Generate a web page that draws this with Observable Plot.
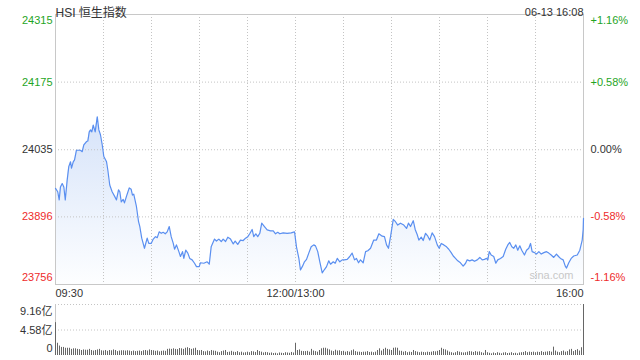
<!DOCTYPE html>
<html><head><meta charset="utf-8">
<script src="https://cdn.jsdelivr.net/npm/d3@7"></script>
<script src="https://cdn.jsdelivr.net/npm/@observablehq/plot@0.6"></script>
<style>
body{margin:0;background:#fff;}
#wrap{position:relative;width:640px;height:360px;overflow:hidden;}
#wrap svg{position:absolute;left:0;display:block;}
</style></head><body><div id="wrap"></div>
<script>
// ---------- data ----------
const titleText = "HSI 恒生指数";
const dateText = "06-13 16:08";
const prevClose = 24035;
const yTicks = [24315, 24175, 24035, 23896, 23756];
const pctLabels = ["+1.16%", "+0.58%", "0.00%", "-0.58%", "-1.16%"];
const gridMinutes = [30, 60, 90, 120, 150, 180, 210, 240, 270, 300];
const xLabelMinutes = [0, 150, 330];
const xLabelTexts = ["09:30", "12:00/13:00", "16:00"];
const volTicks = [9.16, 4.58, 0];
const volTickLabels = ["9.16亿", "4.58亿", "0"];

// minutes since 09:30 (lunch removed) and index level
const times = [0,1.4,2.3,3.1,4.2,5.2,6.1,7.3,8.3,9.4,10,11.1,11.9,13.1,15.6,16.7,17.7,19.4,20.2,21.1,21.9,22.7,23.6,24.8,26.1,27.1,28.1,29.2,30.2,31.9,32.7,33.9,35.4,36.9,38.1,39.4,40.2,41.1,42.3,43.1,44.4,46.1,47.3,48.1,48.9,50.6,51.9,52.7,53.9,55.6,57.3,58.3,59.8,61.1,62.5,63.6,64.8,66.1,67.3,68.6,69.8,71.1,72.3,73.6,74.4,75.6,77.1,78.1,79.4,80.2,81.4,82.7,83.9,85.4,86.9,88.1,89.8,90.6,
92.7,94.8,96.1,97.3,99.4,100.6,102.1,103.6,104.8,106.3,107.7,109.4,111.1,112.3,113.9,115.6,117.3,118.8,120.2,121.4,122.9,123.9,125.2,126.4,127.7,128.9,130.6,132.3,134.4,136.1,137.5,138.9,140.2,142.3,144.8,147.3,149.4,
150.6,152.1,153.1,154.4,155.6,156.9,158.3,159.8,161.4,162.5,163.9,165.2,166.7,168.1,169.4,170.8,171.9,173.6,174.8,176.1,177.7,179.2,180.6,182.3,183.9,185.4,186.9,188.1,189.4,190.6,192.3,193.8,195.2,196.9,198.9,200.6,202.1,204.2,205.6,206.9,208.1,209.4,211.1,212.5,213.9,
215.6,217.7,219.4,220.6,221.9,223.6,224.8,226.1,227.1,228.6,229.8,231.3,232.7,233.9,235.4,236.9,238.6,239.8,241.1,242.7,244.4,245.8,247.3,248.6,250,251.4,253.1,254.8,256.3,257.3,258.9,260.4,261.9,263.6,265.2,266.7,268.1,269.4,270.2,271.1,272.3,273.9,275.2,276.4,278.1,279.8,281.4,282.7,283.9,285.2,286.4,287.7,288.9,290.2,291.4,293.1,294.4,295.8,296.9,297.9,299.4,300.6,302.1,303.6,305.2,306.9,308.3,309.8,311.4,313.1,314.4,315.6,317.3,318.6,319.4,320.8,322.3,323.9,326.1,327.7,329.2,329.8,330];
const prices = [23955,23948,23931,23958,23965,23958,23931,23972,24000,24010,23997,24010,24014,24034,24034,24031,24045,24052,24053,24072,24076,24072,24086,24072,24103,24076,24066,24045,24021,24010,23993,23962,23948,23939,23931,23952,23948,23927,23932,23925,23939,23956,23953,23941,23943,23917,23886,23876,23852,23831,23852,23841,23841,23850,23855,23853,23865,23862,23864,23861,23865,23876,23855,23841,23829,23838,23824,23814,23824,23810,23827,23821,23810,23807,23800,23793,23793,23801,
23800,23803,23798,23834,23850,23846,23850,23845,23850,23845,23854,23850,23840,23846,23839,23848,23847,23852,23855,23861,23870,23855,23861,23855,23862,23883,23876,23869,23867,23867,23861,23864,23861,23863,23862,23863,23865,
23834,23810,23786,23794,23803,23808,23821,23834,23838,23836,23824,23803,23780,23787,23793,23805,23798,23803,23800,23810,23803,23807,23807,23808,23814,23821,23807,23810,23801,23807,23801,23824,23826,23831,23848,23848,23861,23856,23855,23838,23831,23855,23891,23886,23879,
23883,23879,23872,23883,23876,23888,23870,23859,23848,23854,23847,23862,23856,23848,23863,23855,23838,23831,23841,23838,23834,23829,23822,23815,23810,23805,23801,23794,23800,23807,23805,23807,23804,23807,23812,23807,23808,23810,23807,23824,23817,23814,23800,23807,23810,23814,23829,23838,23843,23834,23831,23838,23827,23836,23827,23817,23827,23831,23841,23824,23822,23819,23824,23819,23822,23824,23821,23817,23812,23819,23814,23810,23807,23794,23790,23801,23810,23815,23817,23827,23848,23870,23893];

// turnover (亿), one bar per 1.25 minutes
const volumes = [5.9,2.2,1.7,1.45,1.45,1.3,1.3,1.3,1.1,1.2,1.2,1.1,1.05,0.9,1.0,0.95,0.95,1.1,0.9,0.8,0.9,1.0,1.1,0.85,0.8,0.9,0.75,0.9,0.85,1.0,0.9,0.7,0.8,0.85,0.85,0.8,0.85,0.8,0.7,0.8,0.7,0.75,0.8,0.7,0.85,0.9,0.8,1.0,0.9,0.85,0.75,0.8,0.65,0.75,
0.8,0.75,1.1,1.15,1.1,1.2,1.1,1.05,1.25,1.2,1.1,1.3,1.4,1.25,1.1,1.2,1.3,0.9,0.85,0.9,0.7,0.65,0.8,0.7,0.9,0.8,0.75,0.6,0.5,0.7,0.8,0.9,0.55,0.6,0.75,0.6,0.55,0.7,0.5,0.6,0.45,0.5,0.6,0.5,0.7,0.65,0.55,0.9,0.7,0.6,0.45,0.55,0.5,
0.4,0.45,0.35,0.4,0.3,0.45,0.4,0.35,0.5,0.45,0.4,0.55,0.45,2.2,0.9,1.0,0.75,0.7,0.7,0.75,0.6,1.1,0.8,0.7,0.6,0.9,1.2,1.3,1.3,1.15,1.0,0.8,0.7,0.95,0.8,0.85,0.7,0.75,0.6,0.7,0.6,0.85,1.0,0.7,0.6,0.6,0.55,0.6,0.6,0.7,0.55,0.6,0.5,
0.6,0.9,1.2,0.8,1.1,1.3,1.1,1.0,0.9,1.3,1.35,1.3,0.8,0.75,0.6,0.7,0.5,0.6,0.55,0.9,0.7,0.6,0.5,0.6,0.55,0.5,0.6,0.55,0.6,0.7,0.65,0.75,0.9,1.3,1.1,1.0,0.8,0.6,0.5,0.4,0.5,0.7,0.6,0.5,0.45,0.5,0.6,0.7,0.65,0.55,0.7,0.6,0.65,0.5,
0.4,0.9,0.5,0.4,0.3,0.45,0.35,0.5,0.4,0.3,0.45,0.5,0.35,0.4,0.5,0.35,0.4,0.3,0.45,0.5,0.55,0.7,0.5,0.6,0.55,0.6,0.5,0.6,0.55,0.7,0.55,0.6,0.65,0.7,0.6,1.5,0.8,0.6,0.5,0.7,0.8,0.6,0.7,1.0,1.1,0.7,0.9,1.05,0.8,1.4,9.16];
const volStep = 1.25;

// ---------- style ----------
const FONT = '"Liberation Sans", Arial, "Noto Sans CJK SC", sans-serif';
const GREEN = "#1fa51f", RED = "#ee2b2b", DARK = "#333333";
const GRID = "#c4c4c4", BORDER = "#c8c8c8", LINE = "#5a8ff0";
const DASH = "1,2";
const colorOf = v => v > prevClose ? GREEN : v < prevClose ? RED : DARK;

const W = 640, ML = 55, MR = 57;
const xDomain = [0, 330];
const yDomain = [23756, 24315];

const idx = d3.range(times.length);
const tickIdx = d3.range(yTicks.length);
const last = yTicks.length - 1;

function leftLabels(filter, dy) {
  return Plot.text(tickIdx.filter(filter), {
    x: () => xDomain[0], y: i => yTicks[i], text: i => String(yTicks[i]),
    fill: i => colorOf(yTicks[i]), textAnchor: "end", dx: -3, dy, fontSize: 11
  });
}
function rightLabels(filter, dy) {
  return Plot.text(tickIdx.filter(filter), {
    x: () => xDomain[1], y: i => yTicks[i], text: i => pctLabels[i],
    fill: i => colorOf(yTicks[i]), textAnchor: "start", dx: 7, dy, fontSize: 11
  });
}
const xAnchors = ["start", "middle", "end"];

const price = Plot.plot({
  width: W, height: 300,
  marginLeft: ML, marginRight: MR, marginTop: 14, marginBottom: 16,
  x: {domain: xDomain, axis: null},
  y: {domain: yDomain, axis: null},
  color: {type: "identity"},
  style: {fontFamily: FONT, fontSize: "11px", background: "transparent", overflow: "visible"},
  marks: [
    Plot.areaY(idx, {x: i => times[i], y1: () => yDomain[0], y2: i => prices[i], fill: "url(#areaGrad)"}),
    Plot.ruleX(gridMinutes, {stroke: GRID, strokeDasharray: DASH}),
    Plot.ruleY(yTicks.slice(1, last), {stroke: GRID, strokeDasharray: DASH}),
    Plot.frame({stroke: BORDER}),
    Plot.line(idx, {x: i => times[i], y: i => prices[i], stroke: LINE, strokeWidth: 1.2}),
    Plot.text(["sina.com"], {frameAnchor: "bottom-right", dx: -10, dy: -6, fill: "#c8c8c8", fontSize: 11}),
    leftLabels(i => i === 0, 6),
    leftLabels(i => i > 0 && i < last, 0),
    leftLabels(i => i === last, -7),
    rightLabels(i => i === 0, 6),
    rightLabels(i => i > 0 && i < last, 0),
    rightLabels(i => i === last, -7),
    ...xLabelMinutes.map((m, k) => Plot.text([k], {
      x: () => xLabelMinutes[k], y: () => yDomain[0], text: () => xLabelTexts[k],
      textAnchor: xAnchors[k], dy: 9, fill: DARK, fontSize: 11
    })),
    Plot.text([titleText], {frameAnchor: "top-left", dy: -6, fill: DARK, fontSize: 12}),
    Plot.text([dateText], {frameAnchor: "top-right", dy: -6, fill: DARK, fontSize: 11})
  ]
});
// gradient for the area fill
const defs = d3.select(price).insert("defs", ":first-child");
const grad = defs.append("linearGradient").attr("id", "areaGrad")
  .attr("x1", 0).attr("x2", 0).attr("y1", 0).attr("y2", 1);
grad.append("stop").attr("offset", "0%").attr("stop-color", "#d6e3f9");
grad.append("stop").attr("offset", "100%").attr("stop-color", "#fdfeff");
price.style.top = "0px";

const vIdx = d3.range(volumes.length);
const vt = d3.range(volTicks.length);
const volume = Plot.plot({
  width: W, height: 60,
  marginLeft: ML, marginRight: MR, marginTop: 4, marginBottom: 5,
  x: {domain: xDomain, axis: null},
  y: {domain: [0, volTicks[0]], axis: null},
  style: {fontFamily: FONT, fontSize: "11px", background: "transparent", overflow: "visible"},
  marks: [
    Plot.ruleY(volTicks.slice(0, 2), {stroke: GRID, strokeDasharray: DASH}),
    Plot.ruleX(xDomain, {y1: 0, y2: volTicks[0], stroke: BORDER}),
    Plot.ruleX(vIdx, {x: i => i * volStep, y1: 0, y2: i => volumes[i], stroke: "#666666"}),
    Plot.text(vt.filter(i => i === 0), {x: () => xDomain[0], y: i => volTicks[i], text: i => volTickLabels[i], textAnchor: "end", dx: -3, dy: 7, fill: DARK, fontSize: 11}),
    Plot.text(vt.filter(i => i === 1), {x: () => xDomain[0], y: i => volTicks[i], text: i => volTickLabels[i], textAnchor: "end", dx: -3, fill: DARK, fontSize: 11}),
    Plot.text(vt.filter(i => i === 2), {x: () => xDomain[0], y: i => volTicks[i], text: i => volTickLabels[i], textAnchor: "end", dx: -3, dy: -7, fill: DARK, fontSize: 11})
  ]
});
volume.style.top = "300px";

const wrap = document.getElementById("wrap");
wrap.appendChild(price);
wrap.appendChild(volume);
</script></body></html>
